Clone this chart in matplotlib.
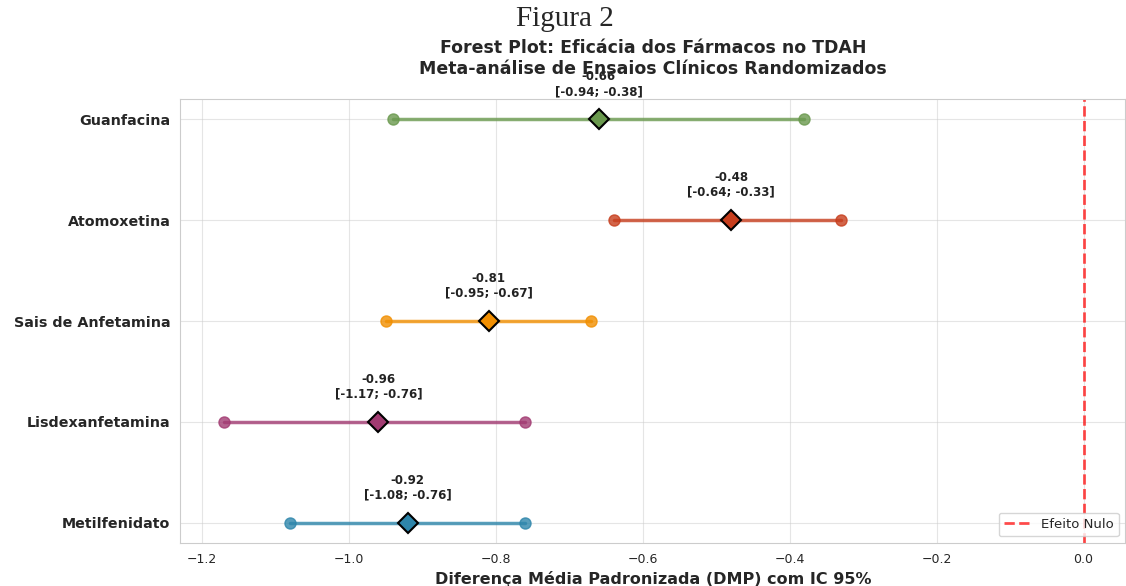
import matplotlib
matplotlib.use("Agg")
import matplotlib.pyplot as plt
import seaborn as sns

farmacos = ['Metilfenidato', 'Lisdexanfetamina', 'Sais de Anfetamina', 'Atomoxetina', 'Guanfacina']
dmp = [-0.92, -0.96, -0.81, -0.48, -0.66]
ic_inf = [-1.08, -1.17, -0.95, -0.64, -0.94]
ic_sup = [-0.76, -0.76, -0.67, -0.33, -0.38]
cores = ['#2E86AB', '#A23B72', '#F18F01', '#C73E1D', '#6A994E']

sns.set_style("whitegrid")
plt.rcParams['font.family'] = ['DejaVu Sans']

fig = plt.figure(figsize=(11.26, 5.86), dpi=100)
ax = fig.add_axes([0.16, 0.0734, 0.8395, 0.7576])

for i, nome in enumerate(farmacos):
    ax.plot([ic_inf[i], ic_sup[i]], [i, i], color=cores[i], linewidth=2.5, alpha=0.8, zorder=2)
    ax.plot([ic_inf[i], ic_sup[i]], [i, i], 'o', color=cores[i], markersize=8, alpha=0.8, zorder=3)
    ax.plot(dmp[i], i, 'D', color=cores[i], markersize=10, markeredgecolor='black',
            markeredgewidth=1.5, zorder=4)
    ax.text(dmp[i], i + 0.21, '%.2f\n[%.2f; %.2f]' % (dmp[i], ic_inf[i], ic_sup[i]),
            ha='center', va='bottom', fontsize=8.5, fontweight='bold', color='#222222')

ax.axvline(0, color='red', linestyle='--', linewidth=2, alpha=0.7, label='Efeito Nulo')

ax.set_yticks(range(len(farmacos)))
ax.set_yticklabels(farmacos, fontsize=10.3, fontweight='bold')
ax.set_xlim(-1.23, 0.057)
ax.set_ylim(-0.2, 4.2)
ax.tick_params(axis='x', labelsize=9)
ax.set_xlabel('Diferença Média Padronizada (DMP) com IC 95%', fontsize=11.5, fontweight='bold')
ax.set_title('Forest Plot: Eficácia dos Fármacos no TDAH\nMeta-análise de Ensaios Clínicos Randomizados',
             fontsize=12.5, fontweight='bold', pad=18)
ax.grid(True, alpha=0.5)
ax.legend(loc='lower right', fontsize=9.5)

fig.text(0.502, 0.968, 'Figura 2', ha='center', va='center', fontsize=21, family='Liberation Serif')

fig.savefig('out.png', dpi=100)
